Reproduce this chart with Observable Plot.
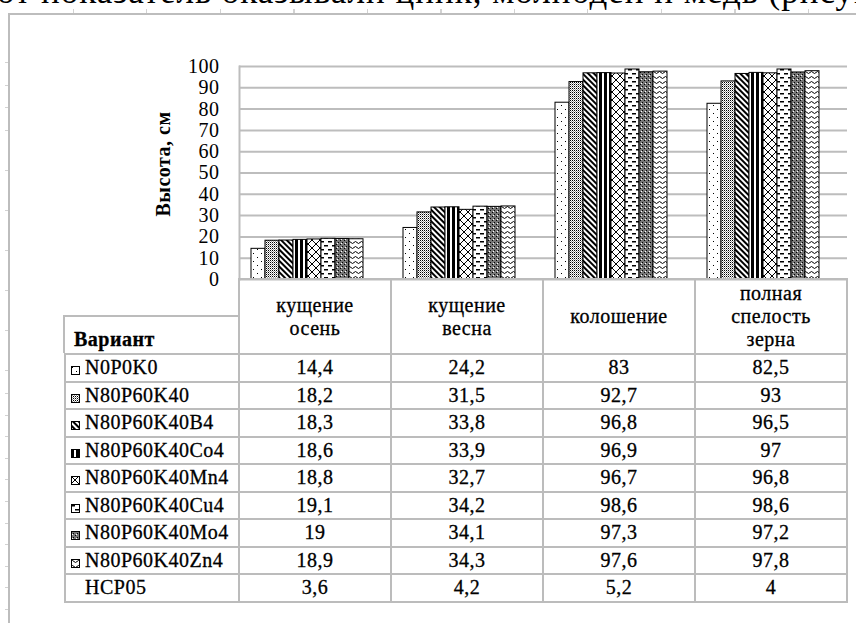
<!DOCTYPE html>
<html lang="ru">
<head>
<meta charset="utf-8">
<script src="https://cdn.jsdelivr.net/npm/d3@7"></script>
<script src="https://cdn.jsdelivr.net/npm/@observablehq/plot@0.6"></script>
<style>
  html, body { margin: 0; padding: 0; background: #fff; }
  #page {
    position: relative; width: 856px; height: 623px; overflow: hidden; background: #fff;
    font-family: "Liberation Serif", "Times New Roman", serif; color: #000;
  }
  #lead {
    position: absolute; left: -3px; top: -26px; font-size: 35px; line-height: 35px;
    white-space: nowrap; letter-spacing: 1px;
  }
  #frame {
    position: absolute; left: 8px; top: 13px; width: 900px; height: 700px;
    border-left: 2px solid #bdbdbd; border-top: 2px solid #bdbdbd;
  }
  .ticks-top {
    position: absolute; left: 73px; top: 9px; width: 783px; height: 4px;
    background: repeating-linear-gradient(to right, #d2d2d2 0 1px, transparent 1px 73.5px);
  }
  .ticks-left { position: absolute; left: 5px; width: 3px; }
  .ticks-left.a { top: 62px; height: 70px; background: repeating-linear-gradient(to bottom, #d2d2d2 0 1px, transparent 1px 22.6px); }
  .ticks-left.b { top: 170px; height: 201px; background: repeating-linear-gradient(to bottom, #d2d2d2 0 1px, transparent 1px 40px); }
  .ticks-left.c { top: 393px; height: 220px; background: repeating-linear-gradient(to bottom, #d2d2d2 0 1px, transparent 1px 21.6px); }
  #chart { position: absolute; left: 0; top: 0; }
  #datatable {
    position: absolute; left: 64px; top: 278px; border-collapse: collapse; table-layout: fixed;
    font-family: "Liberation Serif", "Times New Roman", serif;
    font-size: 20px; letter-spacing: 0.5px; -webkit-text-stroke: 0.3px #000; color: #000;
  }
  #datatable th, #datatable td {
    font-family: "Liberation Serif", "Times New Roman", serif; font-size: 20px;
    border: 2px solid #bcbcbc; padding: 0; text-align: center; vertical-align: middle;
    font-weight: normal; line-height: 23px; white-space: nowrap;
  }
  #datatable thead tr { height: 75px; }
  #datatable tbody tr { height: 27.5px; }
  #datatable th.corner { border-top: none; border-left: none; position: relative; }
  #datatable th.corner .cap {
    position: absolute; left: -2px; right: 0; bottom: 0; height: 38px; box-sizing: border-box;
    border-top: 2px solid #bcbcbc; border-left: 2px solid #bcbcbc;
    display: flex; align-items: flex-end; padding: 0 0 2px 9px; font-weight: bold; text-align: left;
    font-family: "Liberation Serif", "Times New Roman", serif;
  }
  #datatable td.name { text-align: left; padding-left: 5px; }
  .swatch { display: inline-block; width: 9px; height: 9px; vertical-align: -1px; margin-right: 5px; }
  .swatch.blank { visibility: hidden; }
</style>
</head>
<body>
<div id="page">
  <div id="lead">от показатель оказывали цинк, молибден и медь (рисунок</div>
  <div id="frame"></div>
  <div class="ticks-top"></div>
  <div class="ticks-left a"></div>
  <div class="ticks-left b"></div>
  <div class="ticks-left c"></div>

  <!-- Hatch fills shared by the bars and the table keys -->
  <svg width="0" height="0" style="position:absolute">
    <defs>
      <pattern id="pat-0" width="8" height="8" patternUnits="userSpaceOnUse">
        <rect width="8" height="8" fill="#fff"/>
        <rect x="1" y="1" width="1" height="1" fill="#000"/>
        <rect x="5" y="5" width="1" height="1" fill="#000"/>
      </pattern>
      <pattern id="pat-1" width="2" height="2" patternUnits="userSpaceOnUse">
        <rect width="2" height="2" fill="#fff"/>
        <rect x="0" y="0" width="1" height="1" fill="#000"/>
        <rect x="1" y="1" width="1" height="1" fill="#9a9a9a"/>
      </pattern>
      <pattern id="pat-2" width="4" height="4" patternUnits="userSpaceOnUse" patternTransform="rotate(-45)">
        <rect width="4" height="4" fill="#fff"/>
        <rect x="0" y="0" width="2" height="4" fill="#000"/>
      </pattern>
      <pattern id="pat-3" width="5" height="5" patternUnits="userSpaceOnUse">
        <rect width="5" height="5" fill="#fff"/>
        <rect x="0" y="0" width="3" height="5" fill="#000"/>
      </pattern>
      <pattern id="pat-4" width="8" height="8" patternUnits="userSpaceOnUse">
        <rect width="8" height="8" fill="#fff"/>
        <path d="M-1,-1L9,9M9,-1L-1,9" stroke="#000" stroke-width="1" fill="none"/>
      </pattern>
      <pattern id="pat-5" width="8" height="8" patternUnits="userSpaceOnUse">
        <rect width="8" height="8" fill="#fff"/>
        <rect x="0" y="1" width="4" height="1.5" fill="#000"/>
        <rect x="4" y="5" width="4" height="1.5" fill="#000"/>
      </pattern>
      <pattern id="pat-6" width="4" height="4" patternUnits="userSpaceOnUse">
        <rect width="4" height="4" fill="#777"/>
        <rect x="0" y="0" width="1" height="1" fill="#000"/>
        <rect x="2" y="2" width="1" height="1" fill="#000"/>
        <rect x="1" y="3" width="1" height="1" fill="#fff"/>
      </pattern>
      <pattern id="pat-7" width="6" height="5" patternUnits="userSpaceOnUse">
        <rect width="6" height="5" fill="#fff"/>
        <path d="M0,2.5Q1.5,0.5 3,2.5T6,2.5" stroke="#000" stroke-width="1" fill="none"/>
      </pattern>
    </defs>
  </svg>

  <div id="chart"></div>
  <table id="datatable">
    <colgroup>
      <col style="width:174px"><col style="width:152px"><col style="width:152px"><col style="width:152px"><col style="width:152px">
    </colgroup>
    <thead><tr id="head-row"></tr></thead>
    <tbody id="body-rows"></tbody>
  </table>
</div>

<script>
// Growth stages (columns of the data table)
const stages = ["кущение осень", "кущение весна", "колошение", "полная спелость зерна"];

// Fertilizer variants (rows of the data table)
const variants = [
  "N0P0K0", "N80P60K40", "N80P60K40B4", "N80P60K40Co4",
  "N80P60K40Mn4", "N80P60K40Cu4", "N80P60K40Mo4", "N80P60K40Zn4"
];

// Plant height, cm, by stage (one value per variant)
const tilleringAutumn = [14.4, 18.2, 18.3, 18.6, 18.8, 19.1, 19, 18.9];
const tilleringSpring = [24.2, 31.5, 33.8, 33.9, 32.7, 34.2, 34.1, 34.3];
const heading = [83, 92.7, 96.8, 96.9, 96.7, 98.6, 97.3, 97.6];
const fullRipeness = [82.5, 93, 96.5, 97, 96.8, 98.6, 97.2, 97.8];

// Least significant difference row
const lsdLabel = "НСР05";
const lsd05 = [3.6, 4.2, 5.2, 4];

const yTicks = [0, 10, 20, 30, 40, 50, 60, 70, 80, 90, 100];
const yLabel = "Высота, см";

const seriesByStage = [tilleringAutumn, tilleringSpring, heading, fullRipeness];
const fillFor = (variant) => `url(#pat-${variants.indexOf(variant)})`;

const rows = stages.flatMap((stage, s) =>
  variants.map((variant, v) => ({stage, variant, height: seriesByStage[s][v]}))
);

const fmt = (v) => String(v).replace(".", ",");

const chart = Plot.plot({
  width: 856,
  height: 280,
  marginTop: 66,
  marginBottom: 1,
  marginLeft: 239,
  marginRight: 9,
  style: {
    fontFamily: "'Liberation Serif', 'Times New Roman', serif",
    fontSize: "20px",
    color: "#000",
    background: "transparent",
    overflow: "visible",
    letterSpacing: "0.5px"
  },
  fx: {domain: stages, padding: 0, axis: null},
  x: {domain: variants, paddingInner: 0, paddingOuter: 1.2, align: 0.29, axis: null},
  y: {domain: [0, 100], ticks: yTicks, tickSize: 0, tickPadding: 20, label: null},
  color: {type: "identity"},
  marks: [
    Plot.gridY(yTicks, {stroke: "#bdbdbd", strokeOpacity: 1, strokeWidth: 2}),
    Plot.frame({anchor: "left", fx: () => stages[0], stroke: "#bdbdbd", strokeWidth: 2}),
    Plot.barY(rows, {
      fx: "stage",
      x: "variant",
      y: "height",
      fill: (d) => fillFor(d.variant),
      stroke: "#000",
      strokeWidth: 1
    }),
    Plot.text([yLabel], {
      fx: () => stages[0],
      text: (d) => d,
      frameAnchor: "left",
      textAnchor: "middle",
      rotate: -90,
      dx: -76,
      dy: -9,
      fontWeight: "bold",
      fontSize: 20
    })
  ]
});
chart.style.webkitTextStroke = "0.3px #000";
document.getElementById("chart").append(chart);

// Data table under the chart
const headRow = d3.select("#head-row");
headRow.append("th").attr("class", "corner").append("div").attr("class", "cap").text("Вариант");
stages.forEach((stage) => {
  headRow.append("th").html(stage.split(" ").join("<br>"));
});

const body = d3.select("#body-rows");
variants.forEach((variant, v) => {
  const tr = body.append("tr");
  const name = tr.append("td").attr("class", "name");
  const sw = name.append("svg").attr("class", "swatch").attr("viewBox", "0 0 9 9");
  sw.append("rect").attr("x", 0.5).attr("y", 0.5).attr("width", 8).attr("height", 8)
    .attr("fill", fillFor(variant)).attr("stroke", "#000").attr("stroke-width", 1);
  name.append("span").text(variant);
  seriesByStage.forEach((series) => tr.append("td").text(fmt(series[v])));
});
const lsdRow = body.append("tr");
const lsdName = lsdRow.append("td").attr("class", "name");
lsdName.append("svg").attr("class", "swatch blank");
lsdName.append("span").text(lsdLabel);
lsd05.forEach((v) => lsdRow.append("td").text(fmt(v)));
</script>
</body>
</html>
